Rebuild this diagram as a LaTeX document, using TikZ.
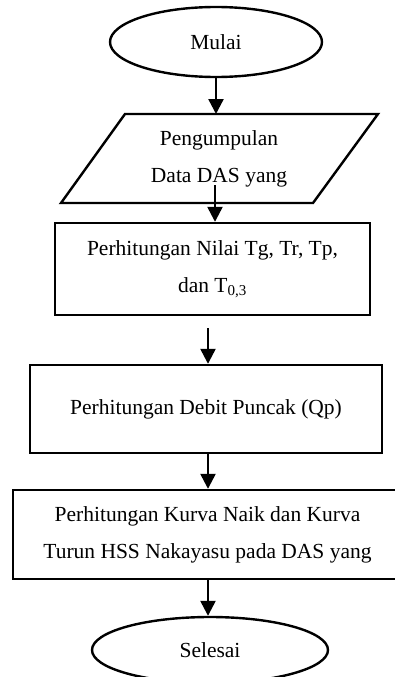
\documentclass[tikz,border=0pt]{standalone}
\usepackage{fontspec}
\setmainfont{Liberation Serif}
\usetikzlibrary{shapes.geometric,arrows.meta}
\begin{document}
\begin{tikzpicture}[x=1pt,y=-1pt,
  txt/.style={font=\fontsize{21.5}{37}\selectfont, align=center},
  box/.style={draw, line width=2.4pt, inner sep=0pt, txt},
  oval/.style={draw, ellipse, line width=2.4pt, inner sep=0pt, txt},
  arr/.style={line width=2.4pt, -{Triangle[length=15pt,width=15pt]}}]
\clip (0,0) rectangle (395,677);
\fill[white] (0,0) rectangle (395,677);
% start
\node[oval, minimum width=212pt, minimum height=70pt] (start) at (216,42) {Mulai};
% parallelogram
\coordinate (pTL) at (125,114);
\coordinate (pTR) at (378,114);
\coordinate (pBR) at (313,203);
\coordinate (pBL) at (61,203);
\draw[line width=2.4pt, line join=miter] (pTL) -- (pTR) -- (pBR) -- (pBL) -- cycle;
\node[txt, inner sep=0pt] (para) at (219,158.5) {Pengumpulan\\Data DAS yang};
% boxes
\node[box, minimum width=315pt, minimum height=92pt] (r1) at (212.5,269) {Perhitungan Nilai Tg, Tr, Tp,\\dan T\textsubscript{0,3}};
\node[box, minimum width=352pt, minimum height=88pt] (r2) at (206,409) {Perhitungan Debit Puncak (Qp)};
\node[box, minimum width=389pt, minimum height=89pt] (r3) at (207.5,534.5) {Perhitungan Kurva Naik dan Kurva\\Turun HSS Nakayasu pada DAS yang};
% end
\node[oval, minimum width=236pt, minimum height=66pt] (stop) at (210,650) {Selesai};
% arrows
\coordinate (a2s) at (215,185);
\coordinate (a3s) at (208,328);
\coordinate (ax) at (208,0);
\draw[arr] (start.south) -- (start.south |- pTL);
\draw[arr] (a2s) -- (r1.north -| a2s);
\draw[arr] (a3s) -- (r2.north -| a3s);
\draw[arr] (r2.south -| ax) -- (r3.north -| ax);
\draw[arr] (r3.south -| ax) -- (stop.north -| ax);
\end{tikzpicture}
\end{document}
